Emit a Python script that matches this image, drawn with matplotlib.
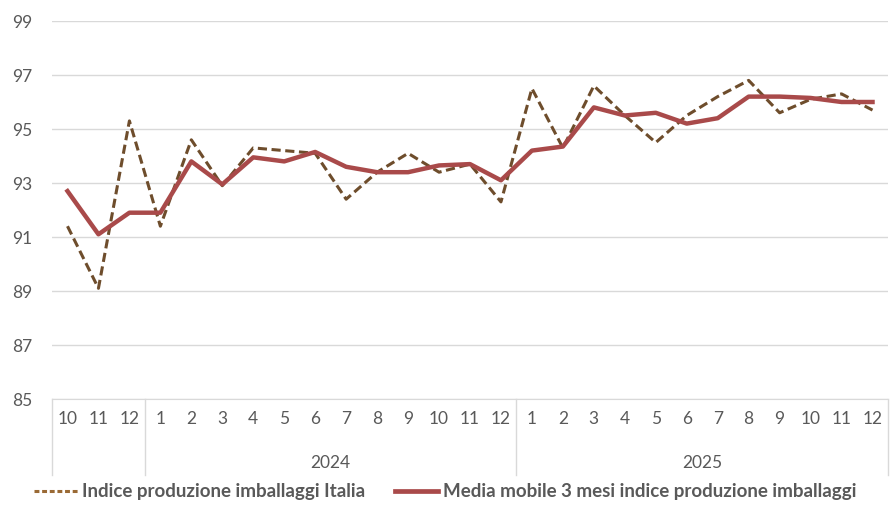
import matplotlib
matplotlib.use("Agg")
import matplotlib.pyplot as plt
from matplotlib.lines import Line2D

plt.rcParams['font.family'] = ['Lato', 'DejaVu Sans']

months = ["10", "11", "12",
          "1", "2", "3", "4", "5", "6", "7", "8", "9", "10", "11", "12",
          "1", "2", "3", "4", "5", "6", "7", "8", "9", "10", "11", "12"]
years = ["", "2024", "2025"]
year_sizes = [3, 12, 12]

indice = [91.4, 89.1, 95.3,
          91.4, 94.6, 92.9, 94.3, 94.2, 94.1, 92.4, 93.4, 94.1, 93.4, 93.7, 92.3,
          96.5, 94.3, 96.6, 95.5, 94.5, 95.5, 96.2, 96.8, 95.6, 96.1, 96.3, 95.7]
media_mobile = [92.7, 91.1, 91.9,
                91.9, 93.8, 92.95, 93.95, 93.8, 94.15, 93.6, 93.4, 93.4, 93.65, 93.7, 93.1,
                94.2, 94.35, 95.8, 95.5, 95.6, 95.2, 95.4, 96.2, 96.2, 96.15, 96.0, 96.0]

label_indice = "Indice produzione imballaggi Italia"
label_media = "Media mobile 3 mesi indice produzione imballaggi"

c_dash = "#6e4d2c"
c_solid = "#a94a4a"
c_grid = "#d9d9d9"
c_text = "#595959"

fig = plt.figure(figsize=(8.91, 5.05), dpi=100)
ax = fig.add_axes([52 / 891, (505 - 399) / 505, (888 - 52) / 891, (399 - 21) / 505])

x = list(range(len(months)))
ax.plot(x, indice, color=c_dash, lw=2.2, ls=(0, (3, 1.5)), zorder=3)
ax.plot(x, media_mobile, color=c_solid, lw=3.2, solid_joinstyle="round", zorder=4)

ax.set_xlim(-0.5, len(months) - 0.5)
ax.set_ylim(85, 99)
ax.set_yticks(range(85, 100, 2))
ax.yaxis.grid(True, color=c_grid, lw=1.0)
ax.set_axisbelow(True)
for s in ["top", "right", "left"]:
    ax.spines[s].set_visible(False)
ax.spines["bottom"].set_color(c_grid)
ax.tick_params(axis="y", length=0, labelsize=12.5, labelcolor=c_text, pad=14)
ax.set_xticks(x)
ax.set_xticklabels(months)
ax.tick_params(axis="x", length=0, labelsize=12.5, labelcolor=c_text, pad=9)

# multi-level category axis: year labels and group separators
trans = ax.get_xaxis_transform()
sep_depth = -0.2
bounds = [-0.5]
for n in year_sizes:
    bounds.append(bounds[-1] + n)
for b in bounds:
    ax.plot([b, b], [0, sep_depth], color=c_grid, lw=1.0, transform=trans, clip_on=False)
for yr, a, b in zip(years, bounds[:-1], bounds[1:]):
    if yr:
        ax.text((a + b) / 2, -0.168, yr, transform=trans, ha="center", va="center",
                fontsize=12.5, color=c_text)

handles = [Line2D([], [], color="#9a6a35", lw=2.2, ls=(0, (1.6, 0.9))),
           Line2D([], [], color=c_solid, lw=3.4)]
leg = fig.legend(handles, [label_indice, label_media], loc="center", ncol=2,
                 bbox_to_anchor=(0.5, 13 / 505), frameon=False,
                 handlelength=2.3, handletextpad=0.25, columnspacing=1.6,
                 prop={"weight": "bold", "size": 13.5})
for t in leg.get_texts():
    t.set_color(c_text)

fig.savefig("out.png", dpi=100)
